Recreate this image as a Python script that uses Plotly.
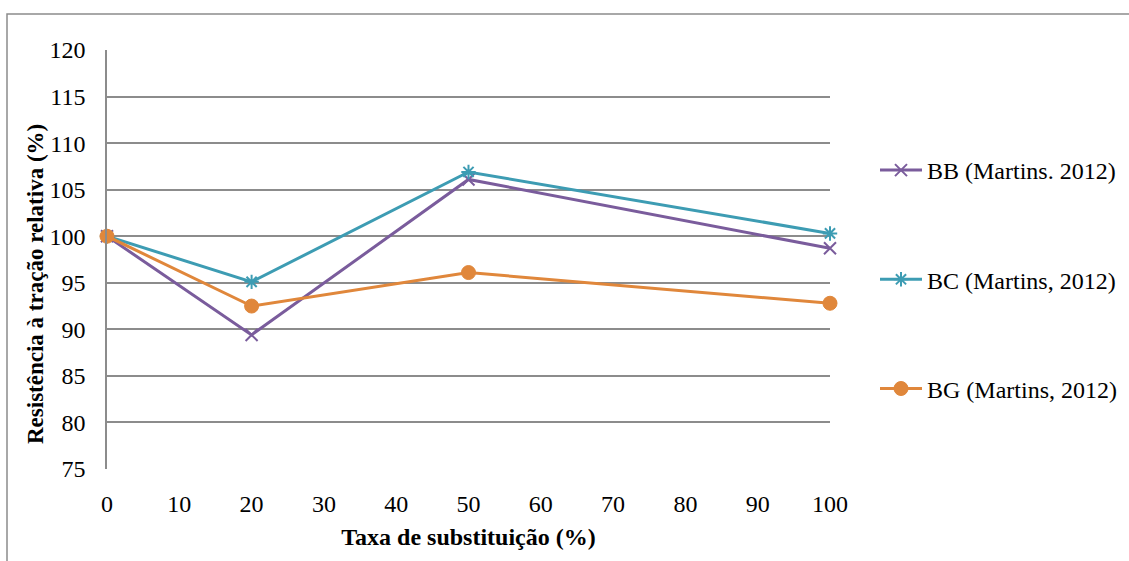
import plotly.graph_objects as go

# Substitution rate (%) and relative tensile strength (%)
taxa = [0, 20, 50, 100]
bb = [100.0, 89.4, 106.1, 98.7]
bc = [100.0, 95.1, 106.9, 100.3]
bg = [100.0, 92.5, 96.1, 92.8]

names = ["BB (Martins. 2012)", "BC (Martins, 2012)", "BG (Martins, 2012)"]
colors = ["#7A5C9C", "#3D9CB3", "#E0873B"]
symbols = ["x-thin", "asterisk-open", "circle"]

W, H = 1129, 561
L, R, T, B = 107, 299, 50, 92
pw, ph = W - L - R, H - T - B

FONT = "Liberation Serif"
FS = 24

fig = go.Figure()
for i, (vals, name) in enumerate(zip([bb, bc, bg], names)):
    is_circle = symbols[i] == "circle"
    fig.add_trace(go.Scatter(
        x=taxa, y=vals, name=name, mode="lines+markers",
        line=dict(color=colors[i], width=3),
        marker=dict(symbol=symbols[i], size=14 if is_circle else 12,
                    color=colors[i],
                    line=dict(color=colors[i], width=1 if is_circle else 2)),
        legendgroup=f"g{i}",
        cliponaxis=False,
    ))

fig.update_layout(
    width=W, height=H,
    margin=dict(l=L, r=R, t=T, b=B, autoexpand=False),
    paper_bgcolor="white", plot_bgcolor="white",
    font=dict(family=FONT, size=FS, color="black"),
    showlegend=True,
    legend=dict(x=(875 - L) / pw, y=(469 - 148) / ph, xanchor="left", yanchor="top",
                tracegroupgap=75, font=dict(size=FS, family=FONT),
                bgcolor="rgba(0,0,0,0)", itemwidth=42),
    xaxis=dict(range=[0, 100], tickvals=list(range(0, 101, 10)), showgrid=False,
               zeroline=False, showline=False, ticks="", ticklen=0,
               ticklabelstandoff=18, automargin=False,
               tickfont=dict(size=FS, family=FONT),
               title=dict(text="<b>Taxa de substituição (%)</b>", standoff=12,
                          font=dict(size=FS, family=FONT))),
    yaxis=dict(range=[75, 120], tickvals=list(range(75, 121, 5)), showgrid=True,
               gridcolor="#8C8C8C", gridwidth=1.5, zeroline=False,
               showline=True, linecolor="#8C8C8C", linewidth=1.5, ticks="",
               ticklabelstandoff=15, automargin=False,
               tickfont=dict(size=FS, family=FONT)),
)

# Y-axis title, set slightly below the plot centre
fig.add_annotation(xref="paper", yref="paper",
                   x=(35 - L) / pw, y=(469 - 284) / ph,
                   xanchor="center", yanchor="middle",
                   text="<b>Resistência à tração relativa (%)</b>",
                   textangle=-90, showarrow=False,
                   font=dict(size=23, family=FONT, color="black"))

# Outer chart border
fig.add_shape(type="rect", xref="paper", yref="paper",
              x0=(7 - L) / pw, x1=(1140 - L) / pw,
              y0=(H - B - 575) / ph, y1=(H - B - 14) / ph,
              line=dict(color="#8C8C8C", width=1.5), layer="below")

fig.write_html("out.html")
